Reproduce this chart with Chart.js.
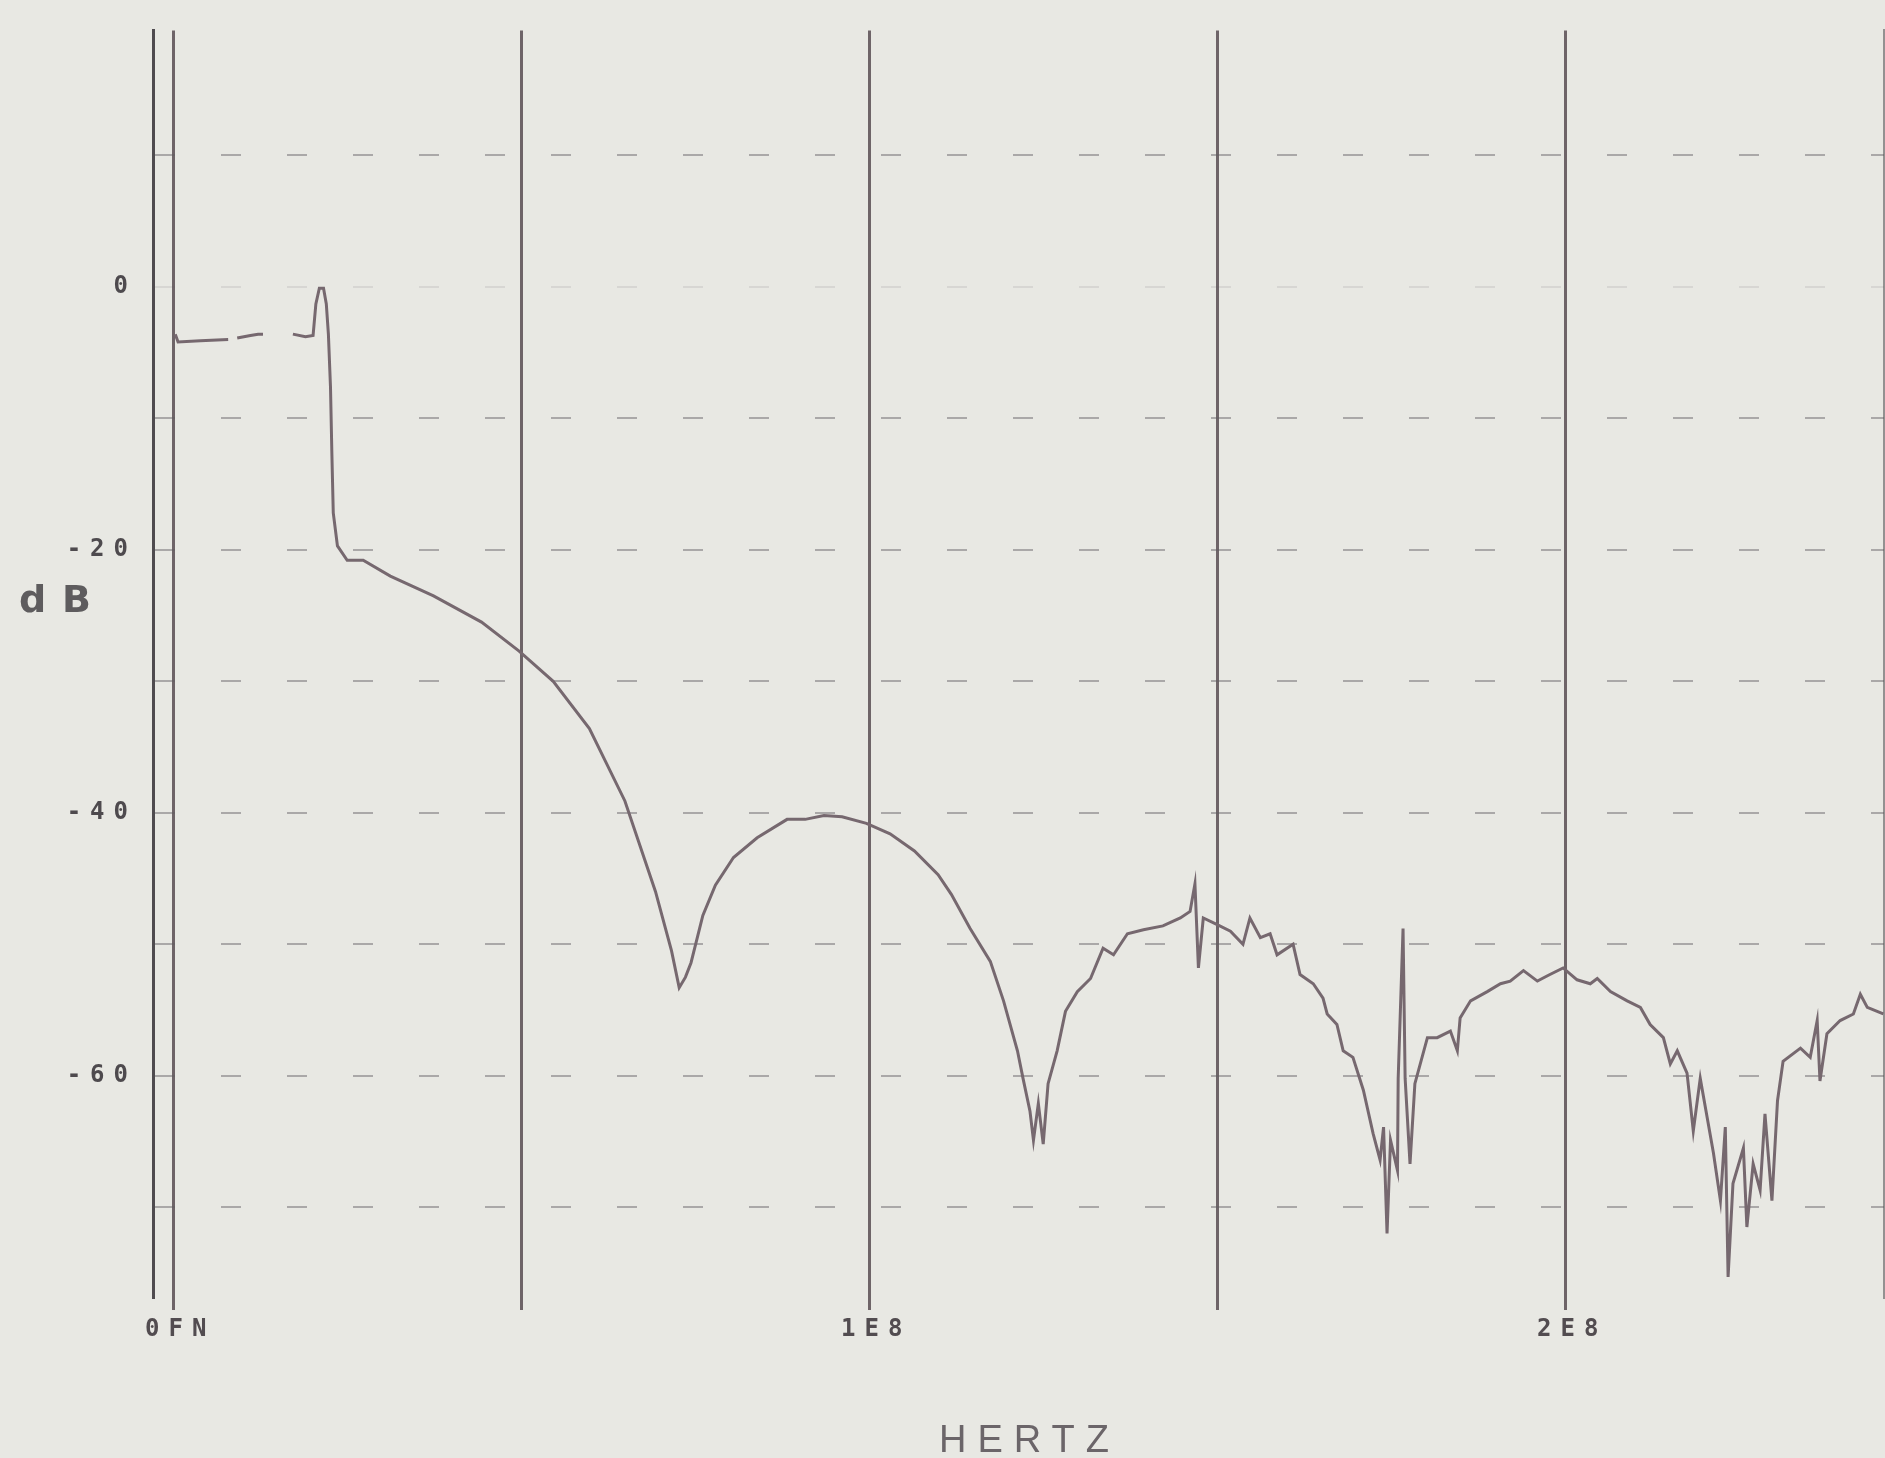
<!DOCTYPE html>
<html><head><meta charset="utf-8">
<script src="https://cdn.jsdelivr.net/npm/chart.js@4/dist/chart.umd.min.js"></script>
<style>html,body{margin:0;padding:0;background:#e8e8e3;overflow:hidden}#wrap{width:1885px;height:1458px;position:relative}</style>
</head><body><div id="wrap"><canvas id="c" width="1885" height="1458"></canvas></div>
<script>
// Frequency in units of 1E8 Hz, level in dB (null = gap in the trace)
const freqX = [
  0.003,0.007,0.039,0.079,0.085,0.092,0.111,0.122,0.129,0.150,
  0.172,0.190,0.201,0.205,0.210,0.216,0.220,0.223,0.226,0.228,
  0.230,0.236,0.250,0.273,0.312,0.374,0.443,0.497,0.546,0.598,
  0.649,0.693,0.716,0.727,0.736,0.744,0.761,0.779,0.805,0.839,
  0.882,0.908,0.935,0.961,0.996,1.030,1.065,1.099,1.118,1.145,
  1.174,1.193,1.213,1.221,1.231,1.236,1.243,1.250,1.257,1.270,
  1.282,1.299,1.318,1.336,1.351,1.371,1.394,1.422,1.447,1.461,
  1.468,1.473,1.480,1.500,1.519,1.537,1.547,1.562,1.576,1.586,
  1.609,1.619,1.638,1.652,1.658,1.672,1.681,1.695,1.710,1.724,
  1.734,1.739,1.744,1.749,1.759,1.760,1.767,1.770,1.777,1.784,
  1.802,1.816,1.835,1.845,1.849,1.864,1.888,1.907,1.921,1.940,
  1.960,1.978,1.997,2.017,2.036,2.046,2.065,2.089,2.108,2.122,
  2.141,2.151,2.161,2.175,2.184,2.194,2.204,2.213,2.223,2.230,
  2.234,2.241,2.256,2.261,2.270,2.280,2.287,2.297,2.305,2.313,
  2.338,2.352,2.362,2.366,2.376,2.395,2.414,2.424,2.434,2.457
];
const levelDb = [
  -3.6,-4.2,-4.1,-4.0,null,-3.9,-3.7,-3.6,-3.6,null,
  -3.6,-3.8,-3.7,-1.3,-0.1,-0.1,-1.3,-3.6,-7.6,-12.7,
  -17.2,-19.7,-20.8,-20.8,-22.0,-23.5,-25.5,-27.7,-30.0,-33.6,
  -39.1,-46.0,-50.5,-53.3,-52.5,-51.4,-47.8,-45.5,-43.4,-41.9,
  -40.5,-40.5,-40.2,-40.3,-40.8,-41.6,-42.9,-44.7,-46.2,-48.8,
  -51.3,-54.3,-58.1,-60.2,-62.7,-64.9,-62.1,-65.2,-60.6,-58.1,
  -55.1,-53.6,-52.6,-50.3,-50.8,-49.2,-48.9,-48.6,-48.0,-47.5,
  -45.4,-51.8,-48.0,-48.5,-49.0,-50.0,-48.0,-49.5,-49.2,-50.8,
  -50.0,-52.3,-53.0,-54.1,-55.3,-56.1,-58.1,-58.6,-61.1,-64.4,
  -66.4,-63.9,-72.0,-64.9,-67.2,-60.2,-48.8,-60.2,-66.7,-60.6,
  -57.1,-57.1,-56.6,-58.1,-55.6,-54.3,-53.6,-53.0,-52.8,-52.0,
  -52.8,-52.3,-51.8,-52.7,-53.0,-52.6,-53.6,-54.3,-54.8,-56.1,
  -57.1,-59.1,-58.1,-59.8,-64.2,-60.2,-63.2,-65.9,-69.5,-63.9,
  -75.3,-68.2,-65.5,-71.5,-66.7,-68.7,-62.9,-69.5,-61.9,-58.9,
  -57.9,-58.6,-55.8,-60.4,-56.8,-55.8,-55.3,-53.8,-54.8,-55.3
];
const xTickValues = [0, 0.5, 1, 1.5, 2];
const xTickLabels = ['0FN', '', '1E8', '', '2E8'];
const yTickValues = [-70, -60, -50, -40, -30, -20, -10, 0, 10];
const yTickLabels = ['', '-60', '', '-40', '', '-20', '', '0', ''];
const xTitle = 'HERTZ';
const yTitle = 'dB';
const xRange = [-0.029, 2.458];
const yRange = [-76.9, 19.5];

const points = freqX.map((x, i) => ({x: x, y: levelDb[i]}));

const tickFont = {family: "'DejaVu Sans Mono', monospace", size: 24, weight: 'bold'};
const TICK_SPACING = 9;

const textPlugin = {
  id: 'plotterText',
  beforeDraw(chart) {
    const ctx = chart.ctx;
    ctx.save();
    ctx.fillStyle = '#e8e8e3';
    ctx.fillRect(0, 0, chart.width, chart.height);
    ctx.restore();
    ctx.letterSpacing = TICK_SPACING + 'px';
  },
  afterDraw(chart) {
    const ctx = chart.ctx;
    ctx.save();
    ctx.letterSpacing = '11px';
    ctx.font = "38px 'Liberation Sans', Arial, sans-serif";
    ctx.fillStyle = '#6b6569';
    ctx.textBaseline = 'alphabetic';
    ctx.textAlign = 'left';
    let w = ctx.measureText(xTitle).width - 11;
    ctx.fillText(xTitle, 1024 - w / 2, 1452);
    ctx.letterSpacing = '16px';
    ctx.font = "bold 38px 'DejaVu Sans', sans-serif";
    ctx.fillStyle = '#5e5c5e';
    w = ctx.measureText(yTitle).width - 16;
    ctx.fillText(yTitle, 55 - w / 2, 612);
    ctx.restore();
  }
};

new Chart(document.getElementById('c'), {
  type: 'line',
  data: {
    datasets: [{
      data: points,
      borderColor: '#76686f',
      borderWidth: 3,
      pointRadius: 0,
      tension: 0,
      spanGaps: false,
      fill: false
    }]
  },
  options: {
    responsive: false,
    animation: false,
    devicePixelRatio: 1,
    layout: {padding: {top: 26, right: 1, left: 0, bottom: 0}},
    plugins: {legend: {display: false}, tooltip: {enabled: false}},
    scales: {
      x: {
        type: 'linear',
        min: xRange[0], max: xRange[1],
        afterBuildTicks: s => { s.ticks = xTickValues.map(v => ({value: v})); },
        afterFit: s => { s.height = 160; },
        ticks: {
          autoSkip: false, maxRotation: 0, minRotation: 0,
          padding: 5, labelOffset: 7,
          color: '#524c50', font: tickFont,
          callback: v => { const i = xTickValues.indexOf(v); return i >= 0 ? xTickLabels[i] : ''; }
        },
        grid: {color: '#6e6468', lineWidth: 3, drawTicks: true, tickLength: 12, tickColor: '#6e6468', tickWidth: 3},
        border: {display: false}
      },
      y: {
        type: 'linear',
        min: yRange[0], max: yRange[1],
        afterBuildTicks: s => { s.ticks = yTickValues.map(v => ({value: v})); },
        afterFit: s => { s.width = 153; },
        ticks: {
          autoSkip: false, padding: 16,
          color: '#4e4a4e', font: tickFont,
          callback: v => { const i = yTickValues.indexOf(v); return i >= 0 ? yTickLabels[i] : ''; }
        },
        grid: {
          color: c => (c.tick && c.tick.value === 0) ? 'rgba(95,90,95,0.12)' : 'rgba(95,90,95,0.45)',
          lineWidth: 2, drawTicks: false
        },
        border: {
          display: true, color: '#4f4b4f', width: 3,
          dash: c => c.type === 'tick' ? [20, 46] : [46, 11]
        }
      },
      yRight: {
        type: 'linear', position: 'right',
        min: yRange[0], max: yRange[1],
        afterFit: s => { s.width = 0; },
        ticks: {display: false},
        grid: {display: false, drawOnChartArea: false},
        border: {display: true, color: 'rgba(90,86,90,0.6)', width: 2, dash: [34, 40]}
      }
    }
  },
  plugins: [textPlugin]
});
</script>
</body></html>
